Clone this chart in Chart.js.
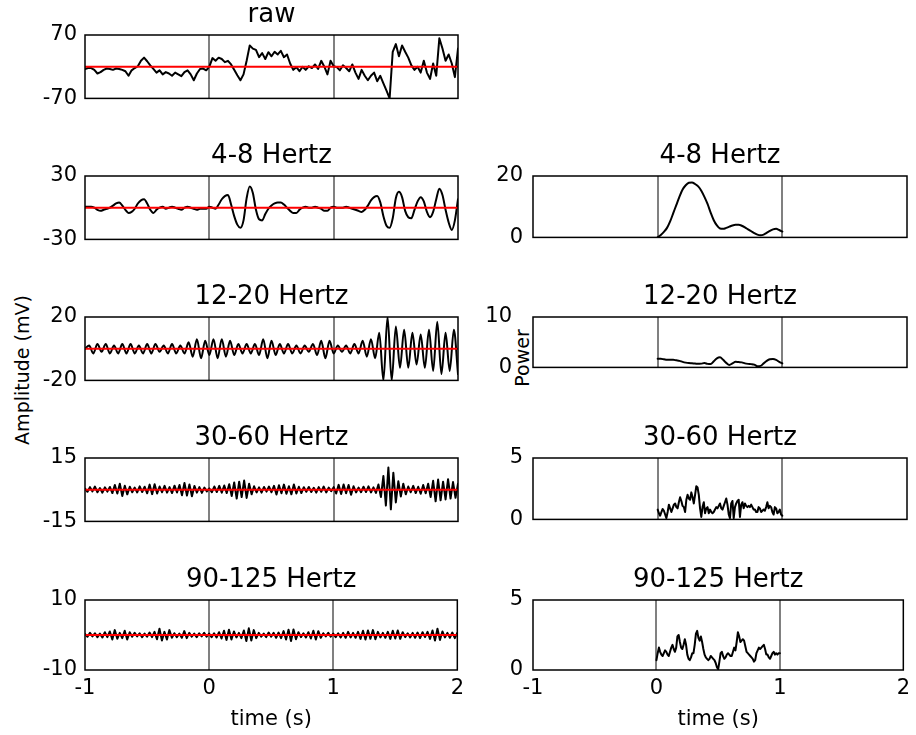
<!DOCTYPE html>
<html>
<head>
<meta charset="utf-8">
<script src="https://cdn.jsdelivr.net/npm/chart.js@4.4.1/dist/chart.umd.min.js"></script>
<style>
  body { margin: 0; background: #fff; }
  #fig { position: relative; width: 916px; height: 735px; overflow: hidden; }
  #fig canvas { position: absolute; }
  .ylab {
    position: absolute;
    font: 19px "DejaVu Sans", sans-serif;
    color: #000;
    white-space: nowrap;
    transform: translate(-50%, -50%) rotate(-90deg);
  }
</style>
</head>
<body>
<div id="fig">
  <div class="ylab" style="left:22px; top:370px;">Amplitude (mV)</div>
  <div class="ylab" style="left:522px; top:358px;">Power</div>
</div>
<script>
// time axis
const timeTicks = [-1, 0, 1, 2];
const eventTimes = [0, 1];

// filtered signals, sampled evenly from -1 s to 2 s
const rawSignal = [
  -5, -3, -3, -7, -15, -12, -7, -4, -5, -7,
  -4, -5, -7, -10, -20, -8, -3, 1, 13, 20,
  12, 3, -5, -13, -8, -17, -12, -15, -20, -13,
  -17, -21, -12, -8, -17, -30, -15, -5, -4, -8,
  0, 19, 13, 20, 17, 10, 13, 5, -7, -19,
  -30, -17, 13, 47, 40, 37, 21, 30, 17, 32,
  23, 33, 27, 35, 21, 27, 7, -7, -1, -10,
  0, -7, 1, -3, 5, -5, 13, 0, -17, 13,
  1, -1, -8, 3, -3, -10, 5, -13, -27, -7,
  -20, -30, -20, -13, -32, -20, -37, -53, -70, 33,
  50, 23, 47, 33, 20, 3, -7, 0, -13, 13,
  -13, -27, 7, -20, 63, 40, 13, 27, 7, -23,
  40
];

const theta = [
  1, 1, 1, 0, -2, -3, -2, -1, 0, 2,
  4, 5, 2, -2, -5, -4, -1, 4, 7, 8,
  4, -2, -5, -2, 0, 1, -1, 0, 1, 0,
  -1, -2, 0, 1, 0, -1, -2, -1, -1, -1,
  1, 0, -1, 3, 8, 11, 12, 3, -8, -16,
  -19, -12, 9, 20, 14, -2, -11, -12, -6, -1,
  2, 4, 5, 5, 3, 0, -3, -5, -5, -2,
  0, 1, 0, 0, 1, 0, -1, -3, -3, 0,
  1, 0, 0, 0, 1, 0, -1, -2, -3, -4,
  -2, 2, 7, 10, 11, 5, -8, -17, -19, -10,
  9, 15, 10, -3, -9, -10, -2, 6, 10, 6,
  -4, -9, -4, 8, 18, 12, -2, -14, -21, -12,
  8
];

const beta = [
  0, 2, -3, 3, -2, 3, -3, 2, -3, 3,
  -3, 3, -3, 2, -3, 3, -3, 3, -2, 2,
  -3, 3, -3, 2, -3, 4, -5, 6, -6, 5,
  -4, 6, -6, 6, -5, 5, -4, 3, -3, 3,
  -3, 3, -4, 6, -6, 5, -4, 3, -3, 3,
  -3, 2, -3, 2, -2, 3, -4, 5, -6, 5,
  -3, 2, -2, 2, -3, 3, -3, 5, -5, 6,
  -6, 10, -20, 20, -20, 14, -12, 12, -12, 10,
  -10, 9, -12, 12, -14, 17, -16, 10, -14, 12,
  -16
];

const gamma = [
  0.5, -1, 1.2, -0.8, 1.5, -1.2, 0.8, -1.4, 1.1, -0.9,
  1.3, -1.6, 2.2, -1.8, 2.8, -3, 1.9, -2.2, 1.4, -1.2,
  1, -1.3, 1.6, -1.1, 1.4, -1.7, 2.4, -2.1, 2.6, -1.8,
  1.5, -1.2, 1.8, -1.4, 1.2, -1.6, 1.9, -1.3, 2.2, -2.6,
  3.2, -2.8, 2.5, -3.1, 1.8, -1.4, 1.2, -1.5, 1, -0.8,
  0.6, -1.2, 1.5, -1.1, 1.8, -1.4, 2, -1.6, 2.6, -3,
  3.4, -4.2, 3.8, -3.5, 4.3, -3.9, 2.8, -2.2, 1.6, -1.3,
  1.1, -1.4, 1.3, -0.9, 1.5, -1.2, 1.8, -2.3, 2.1, -1.7,
  2.4, -1.9, 1.6, -2.2, 2.5, -1.8, 1.4, -1.6, 1.2, -1,
  1.3, -1.1, 0.9, -1.4, 1.2, -1, 1.5, -1.3, 1, -0.7,
  1.2, -1.8, 2.3, -2, 2.5, -1.7, 2.2, -2.4, 1.6, -1.3,
  1, -1.2, 1.4, -1.1, 1.6, -1.3, 1.1, -1.5, 2.5, -3.5,
  6.5, -7.5, 10.5, -9.3, 8, -6, 4, -3.2, 2.8, -2.2,
  1.5, -1.2, 1.8, -1.6, 1.4, -1.9, 2.2, -1.7, 2.8, -3.5,
  4.2, -5.5, 4.8, -5, 3.8, -4.6, 5, -4.2, 3.6, -3.8, 2.8
];

const highGamma = [
  0.3, -0.5, 0.6, -0.4, 0.5, -0.6, 0.4, -0.7, 0.8, -0.6,
  1.0, -1.3, 1.4, -1.1, 0.6, -0.9, 1.2, -1.3, 0.8, -0.5,
  0.6, -0.4, 0.5, -0.6, 0.4, -0.5, 0.7, -0.6, 0.9, -1.2,
  1.8, -1.6, 0.9, -1.3, 1.4, -0.8, 0.5, -0.6, 0.4, -0.8,
  1.1, -0.9, 0.6, -0.5, 0.4, -0.6, 0.5, -0.4, 0.6, -0.5,
  0.4, -0.6, 0.5, -0.7, 0.8, -1.0, 1.2, -1.4, 1.5, -1.3,
  1.0, -0.7, 0.6, -0.9, 1.3, -1.7, 1.9, -1.6, 1.4, -0.9,
  0.6, -0.5, 0.4, -0.6, 0.7, -0.5, 0.6, -0.8, 0.7, -0.9,
  1.1, -1.3, 1.5, -1.7, 1.6, -1.2, 0.8, -0.6, 0.5, -0.7,
  0.8, -1.0, 1.2, -1.3, 1.1, -0.8, 0.5, -0.4, 0.6, -0.5,
  0.4, -0.6, 0.5, -0.7, 0.6, -0.8, 0.9, -0.7, 0.6, -0.8,
  0.9, -1.1, 1.2, -1.3, 1.3, -1.1, 1.4, -1.2, 0.9, -0.7,
  0.6, -0.8, 0.9, -1.1, 1.2, -1.0, 1.3, -1.1, 0.8, -0.6,
  0.5, -0.7, 0.6, -0.8, 0.7, -0.9, 0.8, -0.6, 0.9, -1.1,
  1.3, -1.6, 1.8, -1.4, 1.0, -0.7, 0.6, -0.8, 0.7, -0.9, 0.6
];

// band power, sampled evenly from 0 s to 1 s
const thetaPower = [
  0, 0.8, 1.8, 3.1, 5.2, 7.9, 10.6, 13.3, 15.6, 17.0,
  17.8, 17.9, 17.4, 16.6, 15.2, 13.2, 10.9, 8.1, 5.6, 3.9,
  2.9, 2.8, 3.1, 3.5, 3.9, 4.1, 4.1, 3.8, 3.3, 2.6,
  2.0, 1.4, 0.9, 0.7, 0.9, 1.5, 2.1, 2.6, 2.8, 2.4,
  1.9
];

const betaPower = [
  1.7, 1.7, 1.6, 1.5, 1.5, 1.5, 1.4, 1.3, 1.1, 0.95,
  0.85, 0.8, 0.75, 0.7, 0.75, 0.85, 0.7, 0.65, 1.2, 1.8,
  2.0, 1.5, 0.9, 0.5, 0.8, 1.1, 1.05, 1.0, 0.8, 0.7,
  0.65, 0.55, 0.25, 0.3, 0.8, 1.3, 1.6, 1.65, 1.5, 1.1,
  0.8
];

const gammaPower = [
  0.8, 0.5, 0.3, 0.6, 0.85, 0.7, 0.4, 0.1, 0.6, 1.2,
  0.9, 0.6, 0.9, 1.2, 1.3, 1.0, 0.9, 1.4, 1.8, 1.5,
  1.1, 1.0, 0.6, 1.6, 2.0, 1.7, 1.6, 2.2, 1.8, 1.3,
  2.0, 2.7, 2.6, 2.0, 0.9, 0.2, 1.0, 1.4, 0.5, 0.9,
  1.0, 0.5, 0.8, 0.6, 0.5, 0.6, 0.8, 1.0, 0.9, 1.1,
  1.3, 0.9, 0.8, 1.1, 1.4, 1.7, 1.2, 0.4, 0.1, 1.3,
  1.5, 0.1, 1.0, 1.3, 1.5, 1.6, 0.2, 1.2, 1.4, 0.9,
  1.3, 1.1, 1.0, 1.1, 1.0, 1.2, 1.0, 0.8, 0.8, 0.6,
  0.6, 1.0, 0.9, 0.6, 0.7, 0.8, 0.7, 1.0, 1.4, 0.9,
  1.1, 1.0, 0.6, 0.4, 1.0, 0.9, 0.5, 0.6, 0.8, 0.4,
  0.3
];

const highGammaPower = [
  0.7, 1.2, 1.6, 1.3, 1.1, 1.0, 1.2, 1.4, 1.3, 1.1,
  1.0, 1.3, 1.6, 1.8, 1.5, 1.3, 1.6, 2.4, 2.5, 2.0,
  1.6, 1.5, 1.8, 2.2, 1.8, 1.1, 0.8, 0.7, 0.9, 1.2,
  1.2, 1.8, 2.6, 2.8, 2.3, 2.1, 2.4, 2.0, 1.5, 1.1,
  0.9, 0.8, 0.7, 0.8, 1.0, 0.9, 0.8, 0.7, 0.5, 0.2,
  0.05, 0.6, 1.2, 1.3, 1.0, 0.8, 0.9, 1.1, 1.2, 1.1,
  1.0, 1.0, 1.3, 1.6, 1.4, 2.0, 2.7, 2.4, 2.0, 2.1,
  2.2, 2.1, 1.7, 1.3, 1.2, 1.1, 1.0, 0.9, 0.8, 0.6,
  0.7, 1.2, 1.4, 1.6, 1.5, 1.6, 1.7, 1.8, 1.5, 1.1,
  1.1, 0.9, 0.8, 1.0, 1.2, 1.3, 1.1, 1.2, 1.1, 1.2,
  1.2
];

const bandTitles = ['4-8 Hertz', '12-20 Hertz', '30-60 Hertz', '90-125 Hertz'];
const amplitudeLimits = [70, 30, 20, 15, 10];
const powerLimits = [20, 10, 5, 5];

// ---- layout ----
Chart.defaults.font.family = '"DejaVu Sans", sans-serif';
Chart.defaults.color = '#000';

const TICK_SIZE = 21;
const LABEL_SIZE = 21;
const TITLE_SIZE = 26;
const TITLE_LINE = 31;
const TITLE_H = TITLE_LINE + 4;
const AREA_H = 70;
const Y_AXIS_W = 60;
const rowTops = [35, 176, 317, 458, 600];
const columns = {
  left: { canvasLeft: 0, canvasWidth: 470, areaLeft: 85, areaRight: 458 },
  right: { canvasLeft: 470, canvasWidth: 446, areaLeft: 533, areaRight: 907 }
};

const fig = document.getElementById('fig');

// box around each axes, drawn over the traces
const frame = {
  id: 'frame',
  afterDatasetsDraw(chart) {
    const { ctx, chartArea: a } = chart;
    ctx.save();
    ctx.strokeStyle = '#000';
    ctx.lineWidth = 1.5;
    ctx.strokeRect(a.left, a.top, a.right - a.left, a.bottom - a.top);
    ctx.restore();
  }
};

function series(values, t0, t1) {
  const step = (t1 - t0) / (values.length - 1);
  return values.map((v, i) => ({ x: t0 + i * step, y: v }));
}

function trace(points, smooth) {
  return {
    data: points,
    borderColor: '#000',
    borderWidth: 2,
    order: 1,
    tension: 0,
    cubicInterpolationMode: smooth ? 'monotone' : 'default'
  };
}

function addPanel(col, row, title, yMin, yMax, datasets, isBottom, tickGap) {
  const c = columns[col];
  const xH = isBottom ? 62 : 0;
  const padBottom = isBottom ? 2 : 14;
  const canvas = document.createElement('canvas');
  canvas.width = c.canvasWidth;
  canvas.height = TITLE_H + AREA_H + xH + padBottom;
  canvas.style.left = c.canvasLeft + 'px';
  canvas.style.top = (rowTops[row] - TITLE_H) + 'px';
  fig.appendChild(canvas);

  new Chart(canvas, {
    type: 'line',
    data: { datasets },
    options: {
      responsive: false,
      animation: false,
      events: [],
      parsing: false,
      layout: {
        padding: {
          left: c.areaLeft - c.canvasLeft - Y_AXIS_W,
          right: c.canvasLeft + c.canvasWidth - c.areaRight,
          top: 0,
          bottom: padBottom
        }
      },
      elements: {
        point: { radius: 0 },
        line: { borderJoinStyle: 'round', borderCapStyle: 'round' }
      },
      plugins: {
        legend: { display: false },
        tooltip: { enabled: false }
      },
      scales: {
        // empty top axis that carries the panel title, centred on the plot area
        head: {
          axis: 'x',
          type: 'linear',
          position: 'top',
          min: -1,
          max: 2,
          afterFit: s => { s.height = TITLE_H; },
          grid: { display: false, drawTicks: false },
          border: { display: false },
          ticks: { display: false },
          title: {
            display: true,
            text: title,
            color: '#000',
            padding: { top: 0, bottom: 0 },
            font: { size: TITLE_SIZE, lineHeight: TITLE_LINE + 'px' }
          }
        },
        x: {
          type: 'linear',
          position: 'bottom',
          min: -1,
          max: 2,
          afterBuildTicks: s => { s.ticks = timeTicks.map(v => ({ value: v })); },
          afterFit: s => { s.height = xH; },
          grid: {
            color: ctx => (ctx.tick && eventTimes.includes(ctx.tick.value)) ? '#808080' : 'rgba(0,0,0,0)',
            lineWidth: 2,
            drawTicks: false
          },
          border: { display: false },
          ticks: { display: isBottom, padding: 6, maxRotation: 0, font: { size: TICK_SIZE } },
          title: { display: isBottom, text: 'time (s)', padding: 0, font: { size: LABEL_SIZE } }
        },
        y: {
          min: yMin,
          max: yMax,
          afterBuildTicks: s => { s.ticks = [{ value: yMin }, { value: yMax }]; },
          afterFit: s => { s.width = Y_AXIS_W; },
          grid: { display: false, drawTicks: false },
          border: { display: false },
          ticks: { padding: tickGap, font: { size: TICK_SIZE } }
        }
      }
    },
    plugins: [frame]
  });
}

// left column: amplitude with zero line
const signals = [rawSignal, theta, beta, gamma, highGamma];
const smoothSignal = [false, true, true, false, false];
const leftTitles = ['raw'].concat(bandTitles);
signals.forEach((values, row) => {
  const lim = amplitudeLimits[row];
  const zero = {
    data: [{ x: -1, y: 0 }, { x: 2, y: 0 }],
    borderColor: '#ff0000',
    borderWidth: 2,
    order: 0
  };
  addPanel('left', row, leftTitles[row], -lim, lim,
    [zero, trace(series(values, -1, 2), smoothSignal[row])], row === 4, 8);
});

// right column: band power over the first second; the middle panel
// leaves room for the "Power" label between its ticks and the frame
const powers = [thetaPower, betaPower, gammaPower, highGammaPower];
const smoothPower = [true, true, false, false];
const powerTickGaps = [10, 21, 10, 10];
powers.forEach((values, i) => {
  addPanel('right', i + 1, bandTitles[i], 0, powerLimits[i],
    [trace(series(values, 0, 1), smoothPower[i])], i === 3, powerTickGaps[i]);
});
</script>
</body>
</html>
